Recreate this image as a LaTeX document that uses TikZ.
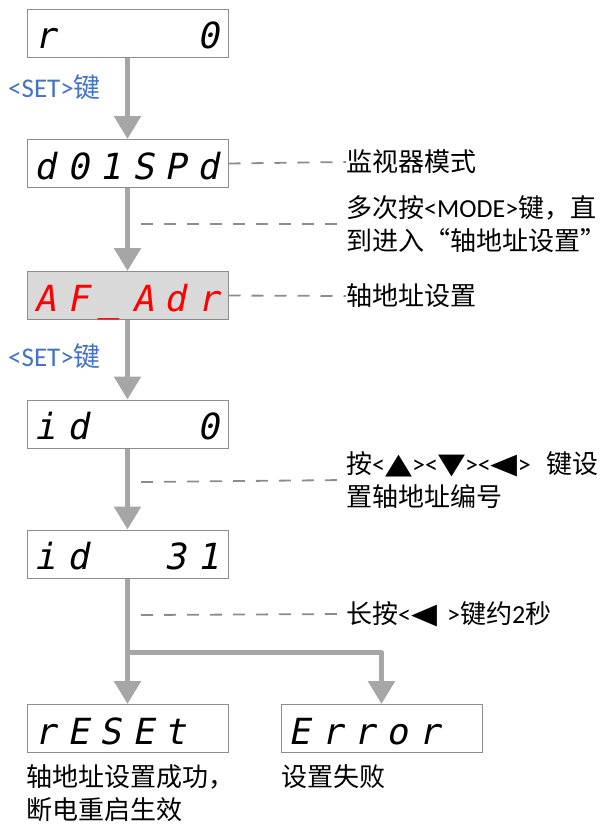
\documentclass[tikz,border=0pt]{standalone}
\usepackage{fontspec}
\usepackage{graphicx}
\setmainfont{Carlito}
\newfontfamily\zh{Noto Sans CJK SC}
\newfontfamily\segfont[FakeSlant=0.2]{DejaVu Sans Mono}
\newfontfamily\symf{DejaVu Sans}
\usetikzlibrary{arrows.meta,calc}
\definecolor{arrowgray}{HTML}{A6A6A6}
\definecolor{dashgray}{HTML}{8C8C8C}
\definecolor{boxgray}{HTML}{8C8C8C}
\definecolor{setblue}{HTML}{4472C4}
\definecolor{dispfill}{HTML}{D9D9D9}
\definecolor{segred}{HTML}{FF0000}
\newcommand{\segcells}[6]{\makebox[32.5pt]{#1}\makebox[32.5pt]{#2}\makebox[32.5pt]{#3}\makebox[32.5pt]{#4}\makebox[32.5pt]{#5}\makebox[32.5pt]{#6}}
\newcommand{\bigtri}[1]{\scalebox{1.35}[1.1]{\symf #1}}
\begin{document}
\begin{tikzpicture}[x=1pt,y=-1pt,
  dispbox/.style={draw=boxgray, line width=1pt, fill=white, minimum width=201pt, minimum height=48pt, inner sep=0pt},
  disptext/.style={anchor=base west, inner sep=0pt, font=\segfont\fontsize{36}{36}\selectfont},
  flow/.style={draw=arrowgray, line width=5.5pt, line join=round, -{Triangle[width=26pt,length=23pt]}},
  leader/.style={draw=dashgray, line width=1.8pt, dash pattern=on 12pt off 11pt},
  note/.style={anchor=west, inner sep=0pt, align=left, font=\fontsize{26}{33}\selectfont},
  keylabel/.style={anchor=west, inner sep=0pt, text=setblue, font=\fontsize{27}{30}\selectfont}]
\useasboundingbox (0,0) rectangle (613,831);
% display boxes
\node[dispbox] (b1) at (127.5,33) {};
\node[dispbox] (b2) at (127.5,163.5) {};
\node[dispbox, fill=dispfill] (b3) at (127.5,295.5) {};
\node[dispbox] (b4) at (127.5,424) {};
\node[dispbox] (b5) at (127.5,554) {};
\node[dispbox] (b6) at (127.5,728.5) {};
\node[dispbox] (b7) at (381.5,728.5) {};
% display texts
\node[disptext] (s1) at ($(b1.south west)+(2.75,-9)$) {\segcells{r}{}{}{}{}{0}};
\node[disptext] (s2) at ($(b2.south west)+(2.75,-9)$) {\segcells{d}{0}{1}{S}{P}{d}};
\node[disptext, text=segred] (s3) at ($(b3.south west)+(2.75,-9)$) {\segcells{A}{F}{\_}{A}{d}{r}};
\node[disptext] (s4) at ($(b4.south west)+(2.75,-9)$) {\segcells{i}{d}{}{}{}{0}};
\node[disptext] (s5) at ($(b5.south west)+(2.75,-9)$) {\segcells{i}{d}{}{}{3}{1}};
\node[disptext] (s6) at ($(b6.south west)+(2.75,-9)$) {\segcells{r}{E}{S}{E}{t}{}};
\node[disptext] (s7) at ($(b7.south west)+(2.75,-9)$) {\segcells{E}{r}{r}{o}{r}{}};
% key labels
\node[keylabel] (k1) at (8,87) {<SET>{\zh 键}};
\node[keylabel] (k2) at (8,356) {<SET>{\zh 键}};
% notes
\node[note] (n1) at (346,162) {\zh 监视器模式};
\node[note] (n2) at (346,224) {{\zh 多次按}<MODE>{\zh 键，直}\\{\zh 到进入“轴地址设置”}};
\node[note] (n3) at (346,296) {\zh 轴地址设置};
\node[note] (n4) at (346,480) {{\zh 按}<\bigtri{▲}><\bigtri{▼}><\bigtri{◀}>\hspace{16pt}{\zh 键设}\\{\zh 置轴地址编号}};
\node[note] (n5) at (346,614) {{\zh 长按}<\scalebox{1.3}[1.1]{\symf ◀}\hspace{10pt}>{\zh 键约}2{\zh 秒}};
\node[note, anchor=north west] (n6) at (26,764) {{\zh 轴地址设置成功，}\\{\zh 断电重启生效}};
\node[note] (n7) at (281,777) {\zh 设置失败};
% flow arrows
\draw[flow] (b1) -- (b2);
\draw[flow] (b2) -- (b3);
\draw[flow] (b3) -- (b4);
\draw[flow] (b4) -- (b5);
\draw[flow] (b5) -- (b6);
\coordinate (br) at (127.5,652.5);
\draw[flow] (br) -| (b7.north);
% leaders
\coordinate (c1) at (141,224);
\coordinate (c2) at (141,482);
\coordinate (c3) at (141,615);
\draw[leader] (b2.east) -- (n1.west);
\draw[leader] (c1) -- (n2.west);
\draw[leader] (b3.east) -- (n3.west);
\draw[leader] (c2) -- (n4.west);
\draw[leader] (c3) -- (n5.west);
\end{tikzpicture}
\end{document}
